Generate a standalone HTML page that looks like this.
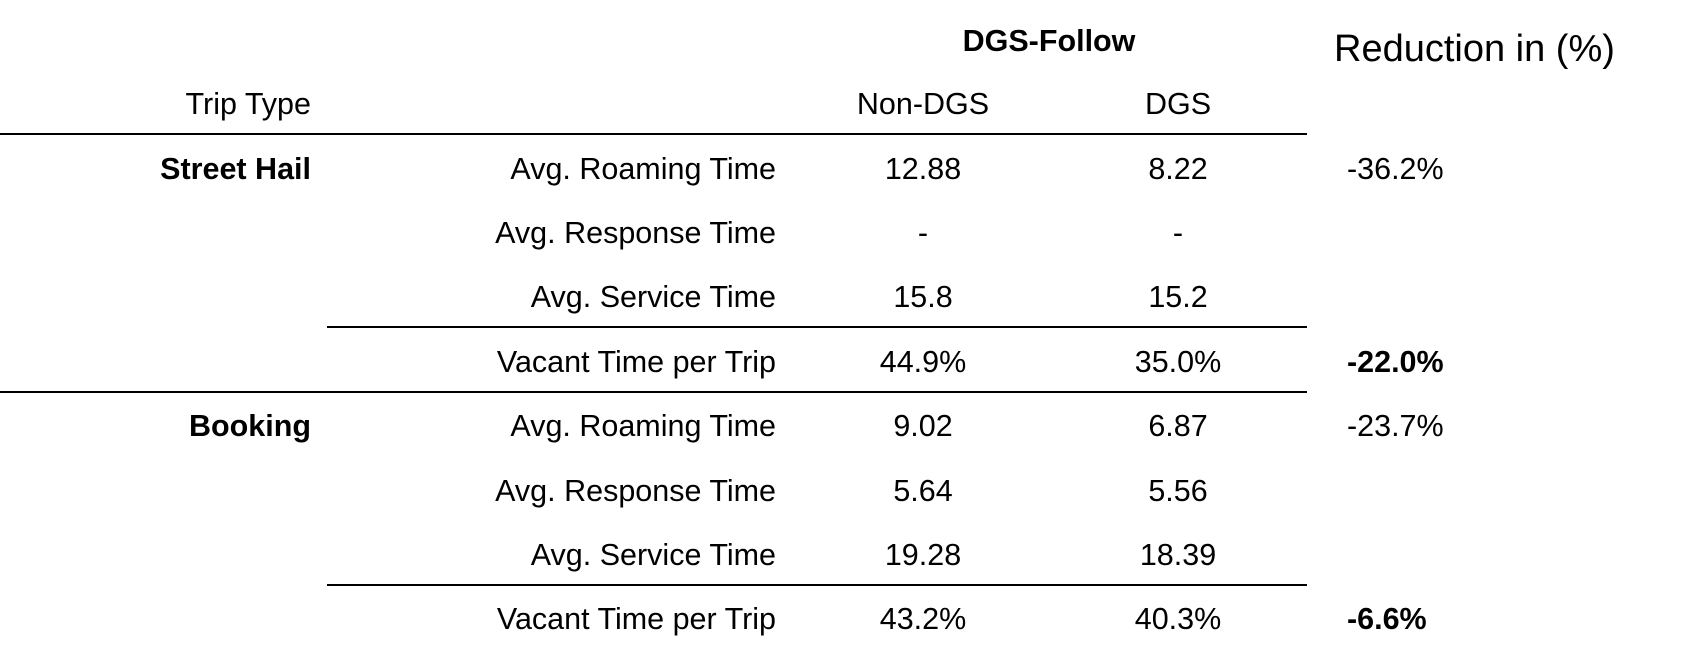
<!DOCTYPE html>
<html><head><meta charset="utf-8"><style>
body{margin:0;width:1682px;height:664px;background:#fff;position:relative;overflow:hidden;font-family:"Liberation Sans",sans-serif;color:#000}
.t{position:absolute;font-size:30.5px;line-height:36px;white-space:nowrap;transform:translateY(-50%)}
.r{text-align:right}
.c{transform:translate(-50%,-50%)}
.b{font-weight:bold}
.l{position:absolute;height:2px;background:#000}
</style></head><body>
<div class="t c b" style="left:1049px;top:41px">DGS-Follow</div>
<div class="t" style="left:1334px;top:49px;font-size:38px">Reduction in (%)</div>
<div class="t r" style="right:1371px;top:104px">Trip Type</div>
<div class="t c" style="left:923px;top:104px">Non-DGS</div>
<div class="t c" style="left:1178px;top:104px">DGS</div>
<div class="l" style="left:0;width:1307px;top:133px"></div>
<div class="l" style="left:327px;width:980px;top:326px"></div>
<div class="l" style="left:0;width:1307px;top:391px"></div>
<div class="l" style="left:327px;width:980px;top:584px"></div>
<div id="rows"></div>
<script>
const groups=["Street Hail","","","","Booking","","",""];
const labels=["Avg. Roaming Time","Avg. Response Time","Avg. Service Time","Vacant Time per Trip","Avg. Roaming Time","Avg. Response Time","Avg. Service Time","Vacant Time per Trip"];
const nonDgs=["12.88","-","15.8","44.9%","9.02","5.64","19.28","43.2%"];
const dgs=["8.22","-","15.2","35.0%","6.87","5.56","18.39","40.3%"];
const reduction=["-36.2%","","","-22.0%","-23.7%","","","-6.6%"];
const boldRed=[false,false,false,true,false,false,false,true];
const host=document.getElementById('rows');
function add(txt,cls,style,name){const d=document.createElement('div');d.className='t '+cls;d.style.cssText=style;d.textContent=txt;


host.appendChild(d);}
labels.forEach((lab,i)=>{const y=168.5+i*64.4;
if(groups[i])add(groups[i],'r b','right:1371px;top:'+y+'px','group-label');
add(lab,'r','right:906px;top:'+y+'px','row-label');
add(nonDgs[i],'c','left:923px;top:'+y+'px','non-dgs-value');
add(dgs[i],'c','left:1178px;top:'+y+'px','dgs-value');
if(reduction[i])add(reduction[i],boldRed[i]?'b':'','left:1347px;top:'+y+'px','reduction-value');
});
</script>
</body></html>
